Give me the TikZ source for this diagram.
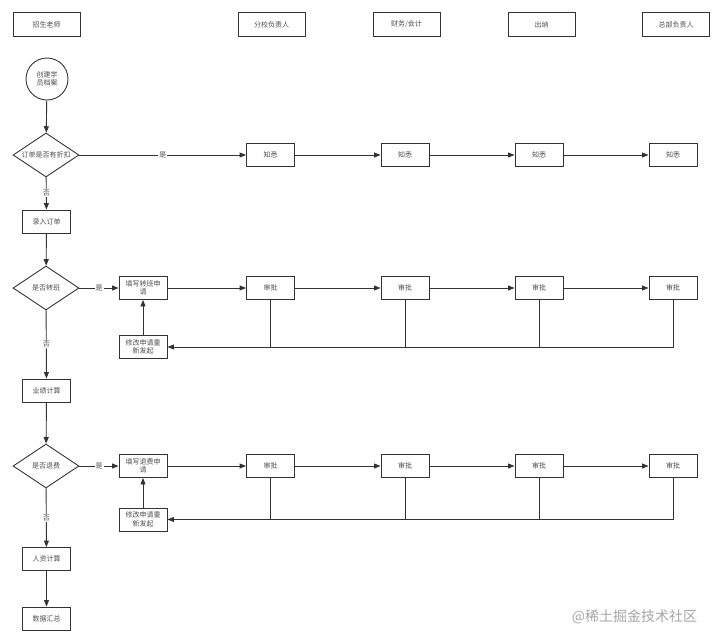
\documentclass[tikz,border=0pt]{standalone}
\usepackage{fontspec}
\setmainfont{Noto Sans CJK SC}
\usetikzlibrary{shapes.geometric,arrows.meta}

\begin{document}
\begin{tikzpicture}[x=1pt,y=-1pt,
        line/.style={draw=black!80,line width=0.9pt},
        arr/.style={line,-{Triangle[length=6.5pt,width=5pt]}},
        txt/.style={font=\fontsize{7}{8.5}\selectfont,text=black!70},
        head/.style={txt,rectangle,line,minimum width=67pt,minimum height=24pt,inner sep=1pt},
        box/.style={txt,rectangle,line,minimum width=48pt,minimum height=23pt,inner sep=1pt,align=center},
        start/.style={txt,circle,line,minimum size=42pt,inner sep=0pt,align=center},
        ask/.style={txt,diamond,line,minimum width=66pt,minimum height=44pt,aspect=1.5,inner sep=0pt},
        lbl/.style={txt,fill=white,inner sep=1pt}]

    \useasboundingbox (0,0) rectangle (720,643);

    % lanes
    \node[head] (zs) at (46.5,24.5) {招生老师};
    \node[head] (fx) at (271.5,24.5) {分校负责人};
    \node[head] (cw) at (406.5,24.5) {财务/会计};
    \node[head] (cn) at (541.5,24.5) {出纳};
    \node[head] (zb) at (676,24.5) {总部负责人};

    % left column
    \node[start] (cj) at (47,79) {创建学\\员档案};
    \node[ask] (d1) at (46,155) {订单是否有折扣};
    \node[box] (lr) at (46.5,221.5) {录入订单};
    \node[ask] (d2) at (46,288) {是否转班};
    \node[box] (yj) at (46.5,390.5) {业绩计算};
    \node[ask] (d3) at (46,466) {是否退费};
    \node[box] (rz) at (46.5,559) {人资计算};
    \node[box] (sj) at (46.5,618.5) {数据汇总};

    % row 1
    \node[box] (zx1) at (270.5,155) {知悉};
    \node[box] (zx2) at (405,155) {知悉};
    \node[box] (zx3) at (539,155) {知悉};
    \node[box] (zx4) at (673,155) {知悉};

    % row 2
    \node[box] (tb) at (143,288) {填写转班申\\请};
    \node[box] (xg1) at (143,347) {修改申请重\\新发起};
    \node[box] (sa1) at (270.5,288) {审批};
    \node[box] (sa2) at (405,288) {审批};
    \node[box] (sa3) at (539,288) {审批};
    \node[box] (sa4) at (673,288) {审批};

    % row 3
    \node[box] (tf) at (143,466) {填写退费申\\请};
    \node[box] (xg2) at (143,519.5) {修改申请重\\新发起};
    \node[box] (sb1) at (270.5,466) {审批};
    \node[box] (sb2) at (405,466) {审批};
    \node[box] (sb3) at (539,466) {审批};
    \node[box] (sb4) at (673,466) {审批};

    \draw[arr] (cj) -- (d1);
    \draw[arr] (d1) -- node[lbl] {是} (zx1);
    \draw[arr] (zx1) -- (zx2);
    \draw[arr] (zx2) -- (zx3);
    \draw[arr] (zx3) -- (zx4);
    \draw[arr] (d1) -- node[lbl] {否} (lr);
    \draw[arr] (lr) -- (d2);

    \draw[arr] (d2) -- node[lbl] {是} (tb);
    \draw[arr] (tb) -- (sa1);
    \draw[arr] (sa1) -- (sa2);
    \draw[arr] (sa2) -- (sa3);
    \draw[arr] (sa3) -- (sa4);
    \draw[arr] (sa4) |- (xg1);
    \draw[line] (sa1) -- (sa1 |- xg1);
    \draw[line] (sa2) -- (sa2 |- xg1);
    \draw[line] (sa3) -- (sa3 |- xg1);
    \draw[arr] (xg1) -- (tb);
    \draw[arr] (d2) -- node[lbl] {否} (yj);
    \draw[arr] (yj) -- (d3);

    \draw[arr] (d3) -- node[lbl] {是} (tf);
    \draw[arr] (tf) -- (sb1);
    \draw[arr] (sb1) -- (sb2);
    \draw[arr] (sb2) -- (sb3);
    \draw[arr] (sb3) -- (sb4);
    \draw[arr] (sb4) |- (xg2);
    \draw[line] (sb1) -- (sb1 |- xg2);
    \draw[line] (sb2) -- (sb2 |- xg2);
    \draw[line] (sb3) -- (sb3 |- xg2);
    \draw[arr] (xg2) -- (tf);
    \draw[arr] (d3) -- node[lbl] {否} (rz);
    \draw[arr] (rz) -- (sj);

    \node[text=black!35,font=\fontsize{14}{16}\selectfont] (wm) at (634.5,617) {@稀土掘金技术社区};
\end{tikzpicture}
\end{document}
